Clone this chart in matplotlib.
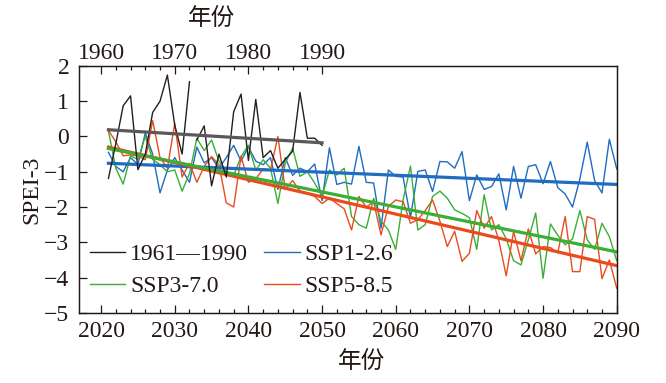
import matplotlib

matplotlib.use("Agg")
import matplotlib.pyplot as plt
import matplotlib.transforms as mtransforms
import numpy as np
from matplotlib.ticker import FixedLocator

plt.rcParams["font.family"] = ["Liberation Serif", "Noto Sans CJK SC"]
plt.rcParams["axes.unicode_minus"] = True

# baseline period, drawn against the top axis
base_years = np.arange(1961, 1991)
base_spei = [
    -1.19, -0.2, 0.87, 1.15, -0.94, -0.5, 0.68, 1.0, 1.74, 0.32,
    -0.5, 1.55, -0.1, 0.3, -1.4, -0.5, -1.15, 0.7, 1.2, -0.68,
    1.05, -0.6, -0.4, -0.9, -0.65, -0.42, 1.25, -0.05, -0.05, -0.25,
]
base_break = 12  # the 1972 -> 1973 segment is missing in the original

ssp_years = np.arange(2021, 2091)
ssp126 = [
    -0.45, -0.85, -1.0, -0.6, -0.8, 0.1, -0.5, -1.6, -0.95, -0.6,
    -0.95, -1.3, -0.3, -0.75, -0.6, -0.9, -0.6, -0.25, -0.7, -0.3,
    -0.7, -0.8, -0.6, -1.5, -0.6, -1.1, -0.9, -1.0, -0.78, -1.82,
    -0.32, -1.36, -1.3, -1.35, -0.28, -1.3, -1.32, -2.6, -0.95, -1.13,
    -1.15, -2.3, -0.99, -0.95, -1.56, -0.71, -0.72, -0.9, -0.43, -1.82,
    -1.09, -1.5, -1.42, -1.06, -2.08, -0.85, -1.75, -0.85, -0.8, -1.34,
    -0.71, -1.45, -1.63, -2.0, -1.2, -0.16, -1.25, -1.6, -0.08, -0.92,
]
ssp370 = [
    0.15, -0.9, -1.35, -0.55, -0.65, 0.0, -0.65, -0.8, -1.0, -0.95,
    -1.55, -1.05, -0.05, -0.4, -0.1, -0.7, -1.0, -1.1, -0.57, -0.25,
    -0.95, -0.66, -0.9, -1.9, -0.76, -0.33, -1.13, -1.0, -1.32, -1.7,
    -0.95, -1.09, -0.9, -2.27, -2.5, -2.6, -1.75, -2.4, -2.65, -3.2,
    -1.8, -0.84, -2.65, -2.5, -1.7, -1.55, -1.75, -2.08, -2.18, -2.3,
    -3.2, -1.65, -2.65, -2.5, -2.9, -3.52, -3.64, -2.93, -2.17, -4.02,
    -2.48, -2.8, -3.07, -2.9, -2.1, -2.93, -3.2, -2.46, -2.84, -3.52,
]
ssp585 = [
    0.17, -0.15, -0.55, -0.52, -0.55, -0.66, 0.45, -0.6, -0.9, 0.37,
    -1.15, -0.76, -1.3, -0.85, -0.57, -0.8, -1.88, -2.0, -0.56, -1.3,
    -1.2, -0.92, -0.95, 0.0, -1.5, -1.25, -1.55, -1.6, -1.7, -1.9,
    -1.75, -1.9, -2.05, -2.65, -1.7, -2.0, -1.85, -2.79, -1.98, -1.8,
    -1.85, -2.46, -2.36, -2.1, -1.8, -2.4, -3.12, -2.69, -3.54, -3.31,
    -2.1, -2.6, -2.27, -2.95, -3.95, -2.69, -3.52, -2.62, -3.33, -3.12,
    -3.15, -3.3, -2.27, -3.83, -3.83, -2.27, -2.35, -4.03, -3.5, -4.3,
]

# linear trend values at the first and last year
base_trend = [0.19, -0.18]
ssp126_trend = [-0.76, -1.36]
ssp370_trend = [-0.34, -3.27]
ssp585_trend = [-0.30, -3.66]

BLACK = "#231f20"
GREY = "#5a5858"
BLUE = "#1f6cc0"
GREEN = "#3aae35"
RED = "#ea4b1c"
TXT = "#231815"
FS = 17

fig = plt.figure(figsize=(6.66, 3.83), dpi=100)
ax = fig.add_axes([0.1186, 0.183, 0.8074, 0.645])

ends = ssp_years[[0, -1]]
l126, = ax.plot(ssp_years, ssp126, color=BLUE, lw=1.0, label="SSP1-2.6")
l370, = ax.plot(ssp_years, ssp370, color=GREEN, lw=1.0, label="SSP3-7.0")
l585, = ax.plot(ssp_years, ssp585, color=RED, lw=1.0, label="SSP5-8.5")
ax.plot(ends, ssp126_trend, color=BLUE, lw=2.3)
ax.plot(ends, ssp585_trend, color=RED, lw=2.3)
ax.plot(ends, ssp370_trend, color=GREEN, lw=2.3)

ax.set_xlim(2017, 2090)
ax.set_ylim(-5, 2)
ax.set_yticks(range(-5, 3))
ax.xaxis.set_major_locator(FixedLocator(range(2020, 2091, 10)))
ax.xaxis.set_minor_locator(FixedLocator(range(2020, 2091, 2)))
ax.tick_params(axis="both", which="both", direction="in", colors=TXT,
               labelsize=FS, top=False, right=False)
ax.tick_params(axis="x", which="major", length=6, width=0.9, pad=6)
ax.tick_params(axis="x", which="minor", length=3.2, width=0.9)
ax.tick_params(axis="y", which="major", length=6, width=0.9, pad=7)
ax.set_ylabel("SPEI-3", fontsize=FS, color=TXT, labelpad=1)
ax.set_xlabel("年份", fontsize=17, color=TXT, family="Noto Sans CJK SC")
ax.xaxis.set_label_coords(0.525, -0.15)

# top axis for the 1961-1990 baseline
ax2 = ax.twiny()
ax2.set_xlim(2017 - 60, 2090 - 60)
lb, = ax2.plot(base_years[:base_break], base_spei[:base_break], color=BLACK,
               lw=1.0, label="1961—1990")
ax2.plot(base_years[base_break:], base_spei[base_break:], color=BLACK, lw=1.0)
ax2.plot(base_years[[0, -1]], base_trend, color=GREY, lw=2.3)
ax2.xaxis.set_major_locator(FixedLocator(range(1960, 1991, 10)))
ax2.xaxis.set_minor_locator(FixedLocator(range(1960, 1991, 2)))
ax2.tick_params(axis="x", which="both", direction="in", colors=TXT, labelsize=FS)
ax2.tick_params(axis="x", which="major", length=6, width=0.9, pad=1)
ax2.tick_params(axis="x", which="minor", length=3.2, width=0.9)
top_tr = mtransforms.blended_transform_factory(ax2.transData, ax2.transAxes)
ax2.text(1975, 1.19, "年份", transform=top_tr, ha="center", va="center",
         fontsize=17, color=TXT, family="Noto Sans CJK SC")

for a in (ax, ax2):
    for sp in a.spines.values():
        sp.set_color(TXT)
        sp.set_linewidth(0.9)

ax2.legend([lb, l370, l126, l585], ["1961—1990", "SSP3-7.0", "SSP1-2.6", "SSP5-8.5"],
           ncol=2, loc="upper left", bbox_to_anchor=(0.02, 0.28), frameon=False,
           fontsize=FS, handlelength=1.5, handletextpad=0.2, columnspacing=0.7,
           labelspacing=0.45, borderpad=0, borderaxespad=0, labelcolor=TXT)

fig.savefig("out.png", dpi=100)
